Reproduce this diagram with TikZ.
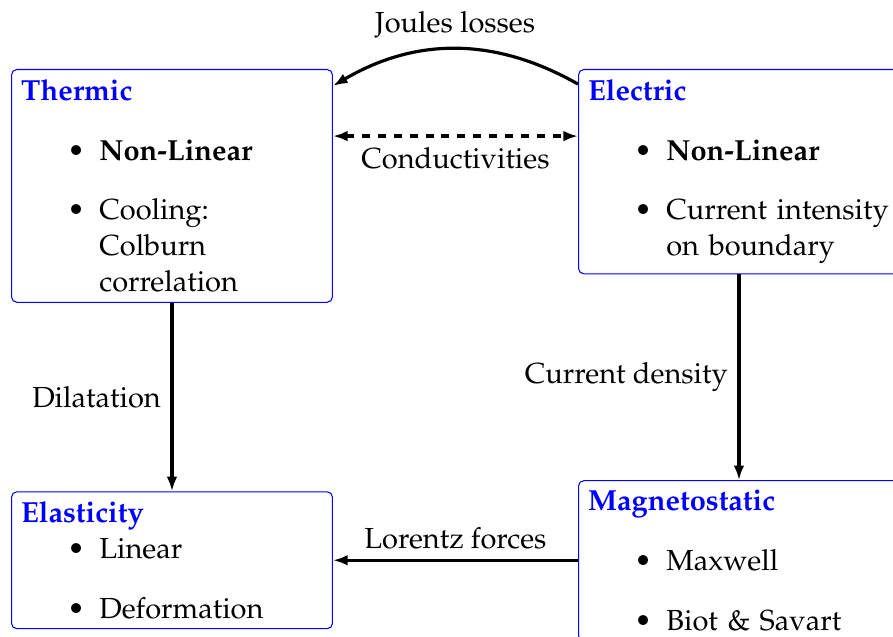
\documentclass[11pt,tikz,border=0pt]{standalone}
\usepackage[T1]{fontenc}
\usepackage{mathpazo}
\usepackage{enumitem}
\setlist[itemize]{leftmargin=29.5pt}
\usetikzlibrary{arrows.meta,positioning}

\begin{document}
\begin{tikzpicture}[
    >={Latex[length=5.5pt,width=4pt]},
    block/.style={rectangle, draw=blue, rounded corners=2pt, text width=4cm, align=left},
    link/.style={very thick},
]
    \clip (0,0) rectangle (11.845,-8.449);

    \node[block, anchor=north west] (thermic) at (0.146,-0.915) {%
        \textcolor{blue}{\textbf{Thermic}}
        \begin{itemize}
            \item \textbf{Non-Linear}
            \item Cooling:\newline Colburn correlation
        \end{itemize}};
    \node[block, right=3.25cm of thermic.north east, anchor=north west] (electric) {%
        \textcolor{blue}{\textbf{Electric}}
        \begin{itemize}
            \item \textbf{Non-Linear}
            \item Current intensity on boundary
        \end{itemize}};
    \node[block, below=2.5cm of thermic.south west, anchor=north west] (elasticity) {%
        \textcolor{blue}{\textbf{Elasticity}}
        \begin{itemize}[topsep=0pt]
            \item Linear
            \item Deformation
        \end{itemize}};
    \node[block, below=2.73cm of electric.south west, anchor=north west] (magneto) {%
        \textcolor{blue}{\textbf{Magnetostatic}}
        \begin{itemize}
            \item Maxwell
            \item Biot \& Savart
        \end{itemize}};

    \draw[link, ->] ([yshift=-0.2cm]electric.north west) to[bend right=30]
        node[above] {Joules losses} ([yshift=-0.225cm]thermic.north east);
    \draw[link, dashed, <->] ([yshift=-0.89cm]thermic.north east) --
        node[below] {Conductivities} ([yshift=-0.89cm]electric.north west);
    \draw[link, ->] (thermic) -- node[left] {Dilatation} (elasticity);
    \draw[link, ->] (electric) -- node[left] {Current density} (magneto);
    \draw[link, ->] (magneto.west |- elasticity.east) --
        node[above] {Lorentz forces} (elasticity.east);
\end{tikzpicture}
\end{document}
